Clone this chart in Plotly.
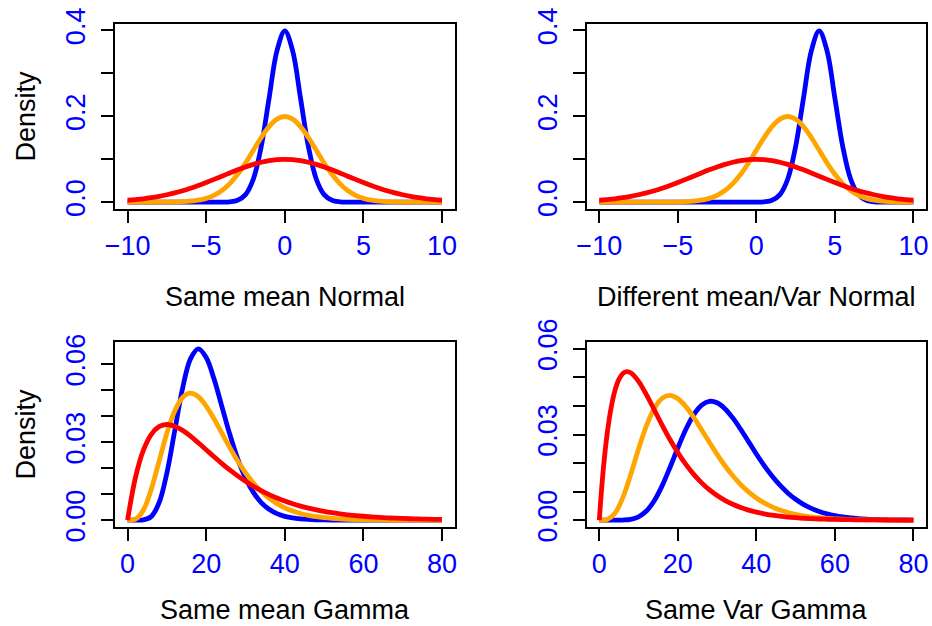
import plotly.graph_objects as go

# ---------------- data ----------------
x_norm = [-10.0, -9.5, -9.0, -8.5, -8.0, -7.5, -7.0, -6.5, -6.0, -5.5, -5.0, -4.5, -4.0, -3.5, -3.0, -2.5,
          -2.0, -1.5, -1.0, -0.5, 0.0, 0.5, 1.0, 1.5, 2.0, 2.5, 3.0, 3.5, 4.0, 4.5, 5.0, 5.5, 6.0, 6.5,
          7.0, 7.5, 8.0, 8.5, 9.0, 9.5, 10.0]

# Panel 1: same mean normal
blue_same_norm = [0, 0, 0, 0, 0, 0, 0, 0, 0, 0, 0, 0, 0.0001, 0.0009, 0.0044, 0.0175, 0.0540, 0.1295, 0.2420,
                  0.3521, 0.3989, 0.3521, 0.2420, 0.1295, 0.0540, 0.0175, 0.0044, 0.0009, 0.0001,
                  0, 0, 0, 0, 0, 0, 0, 0, 0, 0, 0, 0]
orange_same_norm = [0, 0, 0, 0.0000, 0.0001, 0.0002, 0.0004, 0.0010, 0.0022, 0.0046, 0.0088, 0.0159, 0.0270,
                    0.0431, 0.0648, 0.0913, 0.1210, 0.1506, 0.1760, 0.1933, 0.1995, 0.1933, 0.1760, 0.1506,
                    0.1210, 0.0913, 0.0648, 0.0431, 0.0270, 0.0159, 0.0088, 0.0046, 0.0022, 0.0010, 0.0004,
                    0.0002, 0.0001, 0.0000, 0, 0, 0]
red_norm = [0.0044, 0.0060, 0.0079, 0.0104, 0.0135, 0.0172, 0.0216, 0.0266, 0.0324, 0.0388, 0.0457, 0.0530,
            0.0605, 0.0680, 0.0753, 0.0821, 0.0880, 0.0930, 0.0967, 0.0990, 0.0997, 0.0990, 0.0967, 0.0930,
            0.0880, 0.0821, 0.0753, 0.0680, 0.0605, 0.0530, 0.0457, 0.0388, 0.0324, 0.0266, 0.0216, 0.0172,
            0.0135, 0.0104, 0.0079, 0.0060, 0.0044]

# Panel 2: different mean / var normal
blue_diff_norm = [0, 0, 0, 0, 0, 0, 0, 0, 0, 0, 0, 0, 0, 0, 0, 0, 0, 0, 0, 0,
                  0.0001, 0.0009, 0.0044, 0.0175, 0.0540, 0.1295, 0.2420, 0.3521, 0.3989, 0.3521, 0.2420,
                  0.1295, 0.0540, 0.0175, 0.0044, 0.0009, 0.0001, 0, 0, 0, 0]
orange_diff_norm = [0, 0, 0, 0, 0, 0, 0, 0, 0.0001, 0.0002, 0.0004, 0.0010, 0.0022, 0.0046, 0.0088, 0.0159,
                    0.0270, 0.0431, 0.0648, 0.0913, 0.1210, 0.1506, 0.1760, 0.1933, 0.1995, 0.1933, 0.1760,
                    0.1506, 0.1210, 0.0913, 0.0648, 0.0431, 0.0270, 0.0159, 0.0088, 0.0046, 0.0022, 0.0010,
                    0.0004, 0.0002, 0.0001]
red_diff_norm = red_norm

x_gamma = [0, 2, 4, 6, 8, 10, 12, 14, 16, 18, 20, 22, 24, 26, 28, 30, 32, 34, 36, 38, 40, 42, 44, 46, 48,
           50, 52, 54, 56, 58, 60, 62, 64, 66, 68, 70, 72, 74, 76, 78, 80]

# Panel 3: same mean gamma
blue_same_gamma = [0, 0.0000005, 0.0000955, 0.00135, 0.006616, 0.018133, 0.03442, 0.050703, 0.062038,
                   0.065877, 0.062555, 0.054263, 0.043682, 0.033027, 0.023672, 0.016204, 0.010656, 0.006765,
                   0.004163, 0.002491, 0.001454, 0.00083, 0.000464, 0.000255, 0.000137, 0.000073, 0.000038,
                   0.00002, 0.00001, 0.000005, 0.000002, 0, 0, 0, 0, 0, 0, 0, 0, 0, 0]
orange_same_gamma = [0, 0.000395, 0.003832, 0.011767, 0.022556, 0.0334, 0.042008, 0.047203, 0.048842,
                     0.047452, 0.043867, 0.038955, 0.033464, 0.027955, 0.022806, 0.018229, 0.014313, 0.011064,
                     0.008434, 0.006351, 0.004729, 0.003487, 0.002547, 0.001846, 0.001327, 0.000948, 0.000672,
                     0.000474, 0.000333, 0.000232, 0.000161, 0.000111, 0.000077, 0.000053, 0.000036, 0.000025,
                     0.000017, 0.000011, 0.000008, 0.000005, 0.000004]
red_same_gamma = [0, 0.01637, 0.02681, 0.03293, 0.03595, 0.03679, 0.03614, 0.03452, 0.0323, 0.02975, 0.02707,
                  0.02438, 0.02177, 0.01931, 0.01703, 0.01494, 0.01304, 0.01135, 0.00984, 0.0085, 0.00733,
                  0.0063, 0.0054, 0.00462, 0.00395, 0.00337, 0.00287, 0.00244, 0.00207, 0.00176, 0.00149,
                  0.00126, 0.00106, 0.0009, 0.00075, 0.00064, 0.00054, 0.00045, 0.00038, 0.00032, 0.00027]

# Panel 4: same variance gamma
blue_var_gamma = [0, 0, 0.000002, 0.000042, 0.000295, 0.001166, 0.003197, 0.006801, 0.012018, 0.018432,
                  0.025278, 0.031668, 0.036812, 0.040196, 0.041608, 0.041132, 0.039061, 0.035812, 0.031829,
                  0.027512, 0.02319, 0.019111, 0.015433, 0.012232, 0.009532, 0.007312, 0.005529, 0.004126,
                  0.00304, 0.002215, 0.001597, 0.00114, 0.000806, 0.000565, 0.000393, 0.000271, 0.000185,
                  0.000126, 0.000086, 0.000058, 0.000039]
orange_var_gamma = [0, 0.000238, 0.002438, 0.007891, 0.015947, 0.024895, 0.033006, 0.039098, 0.042647,
                    0.04368, 0.042568, 0.039851, 0.036088, 0.031783, 0.027334, 0.023033, 0.019065, 0.015537,
                    0.012485, 0.00991, 0.00778, 0.006047, 0.004657, 0.003557, 0.002697, 0.00203, 0.001519,
                    0.001129, 0.000835, 0.000614, 0.00045, 0.000328, 0.000238, 0.000172, 0.000124, 0.000089,
                    0.000064, 0.000046, 0.000032, 0.000023, 0.000016]
x_red_var = [0, 1, 2, 3, 4, 5, 6, 7, 8, 10, 12, 14, 16, 18, 20, 22, 24, 26, 28, 30, 32, 34, 36, 38, 40, 42,
             44, 46, 48, 50, 52, 54, 56, 58, 60, 62, 64, 66, 68, 70, 72, 74, 76, 78, 80]
red_var_gamma = [0, 0.017363, 0.030146, 0.039255, 0.045438, 0.049307, 0.051365, 0.052021, 0.051614,
                 0.048624, 0.043973, 0.038662, 0.033299, 0.028233, 0.023642, 0.019599, 0.016114, 0.013156,
                 0.010678, 0.008622, 0.006931, 0.00555, 0.004429, 0.003523, 0.002795, 0.002212, 0.001746,
                 0.001376, 0.001082, 0.000849, 0.000666, 0.000521, 0.000407, 0.000318, 0.000248, 0.000193,
                 0.00015, 0.000117, 0.000091, 0.00007, 0.000055, 0.000042, 0.000033, 0.000025, 0.00002]

panel_titles = ["Same mean Normal", "Different mean/Var Normal", "Same mean Gamma", "Same Var Gamma"]
y_title = "Density"

BLUE, ORANGE, RED = "#0000FF", "#FFA500", "#FF0000"
FONT = "Liberation Sans, Arial, Helvetica, sans-serif"
FS = 27
LW = 4.8

panels = [
    (1, [(x_norm, blue_same_norm, BLUE), (x_norm, orange_same_norm, ORANGE), (x_norm, red_norm, RED)]),
    (2, [(x_norm, blue_diff_norm, BLUE), (x_norm, orange_diff_norm, ORANGE), (x_norm, red_diff_norm, RED)]),
    (3, [(x_gamma, blue_same_gamma, BLUE), (x_gamma, orange_same_gamma, ORANGE), (x_gamma, red_same_gamma, RED)]),
    (4, [(x_gamma, blue_var_gamma, BLUE), (x_gamma, orange_var_gamma, ORANGE), (x_red_var, red_var_gamma, RED)]),
]

fig = go.Figure()
for idx, curves in panels:
    sfx = "" if idx == 1 else str(idx)
    for xs, ys, col in curves:
        fig.add_trace(go.Scatter(x=xs, y=ys, mode="lines", line=dict(color=col, width=LW, shape="spline"),
                                 xaxis="x" + sfx, yaxis="y" + sfx, showlegend=False, hoverinfo="skip"))

W, H = 932, 626
xdom_left = [115 / W, 454.6 / W]
xdom_right = [586.7 / W, 926 / W]
ydom_top = [1 - 209 / H, 1 - 24 / H]
ydom_bot = [1 - 527 / H, 1 - 342 / H]

def xaxis_style(dom, rng, dtick, anchor):
    return dict(domain=dom, range=rng, dtick=dtick, tick0=0, anchor=anchor, automargin=False,
                showline=True, linecolor="black", linewidth=2, mirror=True,
                ticks="outside", ticklen=12, tickwidth=2, tickcolor="black",
                showgrid=False, zeroline=False, ticklabelstandoff=0,
                tickfont=dict(family=FONT, size=FS, color="blue"))

def yaxis_style(dom, rng, dtick, minor, fmt, anchor):
    return dict(domain=dom, range=rng, dtick=dtick, tick0=0, anchor=anchor, tickformat=fmt,
                automargin=False,
                showline=True, linecolor="black", linewidth=2, mirror=True,
                ticks="outside", ticklen=12, tickwidth=2, tickcolor="black",
                minor=dict(dtick=minor, tick0=0, ticks="outside", ticklen=12, tickwidth=2,
                           tickcolor="black", showgrid=False),
                showgrid=False, zeroline=False, tickangle=-90, ticklabelstandoff=5,
                tickfont=dict(family=FONT, size=FS, color="blue"))

fig.update_layout(
    width=W, height=H, autosize=False, margin=dict(l=0, r=0, t=0, b=0, pad=0, autoexpand=False),
    paper_bgcolor="white", plot_bgcolor="white",
    xaxis=xaxis_style(xdom_left, [-10.8, 10.8], 5, "y"),
    yaxis=yaxis_style(ydom_top, [-0.01596, 0.4149], 0.2, 0.1, ".1f", "x"),
    xaxis2=xaxis_style(xdom_right, [-10.8, 10.8], 5, "y2"),
    yaxis2=yaxis_style(ydom_top, [-0.01596, 0.4149], 0.2, 0.1, ".1f", "x2"),
    xaxis3=xaxis_style(xdom_left, [-3.2, 83.2], 20, "y3"),
    yaxis3=yaxis_style(ydom_bot, [-0.00264, 0.06852], 0.03, 0.01, ".2f", "x3"),
    xaxis4=xaxis_style(xdom_right, [-3.2, 83.2], 20, "y4"),
    yaxis4=yaxis_style(ydom_bot, [-0.0024, 0.0624], 0.03, 0.01, ".2f", "x4"),
)

title_font = dict(family=FONT, size=FS, color="black")
cx_left = (xdom_left[0] + xdom_left[1]) / 2
cx_right = (xdom_right[0] + xdom_right[1]) / 2
title_pos = [(cx_left, 1 - 297 / H, "middle"), (cx_right, 1 - 297 / H, "middle"),
             (cx_left, 0.0, "bottom"), (cx_right, 0.0, "bottom")]
for (cx, cy, ya), t in zip(title_pos, panel_titles):
    fig.add_annotation(x=cx, y=cy, xref="paper", yref="paper", text=t, showarrow=False,
                       xanchor="center", yanchor=ya, borderpad=0, font=title_font)
for cy in [1 - 116.5 / H, 1 - 434.5 / H]:
    fig.add_annotation(x=25 / W, y=cy, xref="paper", yref="paper", text=y_title, showarrow=False,
                       textangle=-90, xanchor="center", yanchor="middle", font=title_font)

fig.write_html("out.html", config={"displayModeBar": False},
               post_script="document.body.style.margin='0px';document.body.style.padding='0px';"
                           "document.body.style.overflow='hidden';")
